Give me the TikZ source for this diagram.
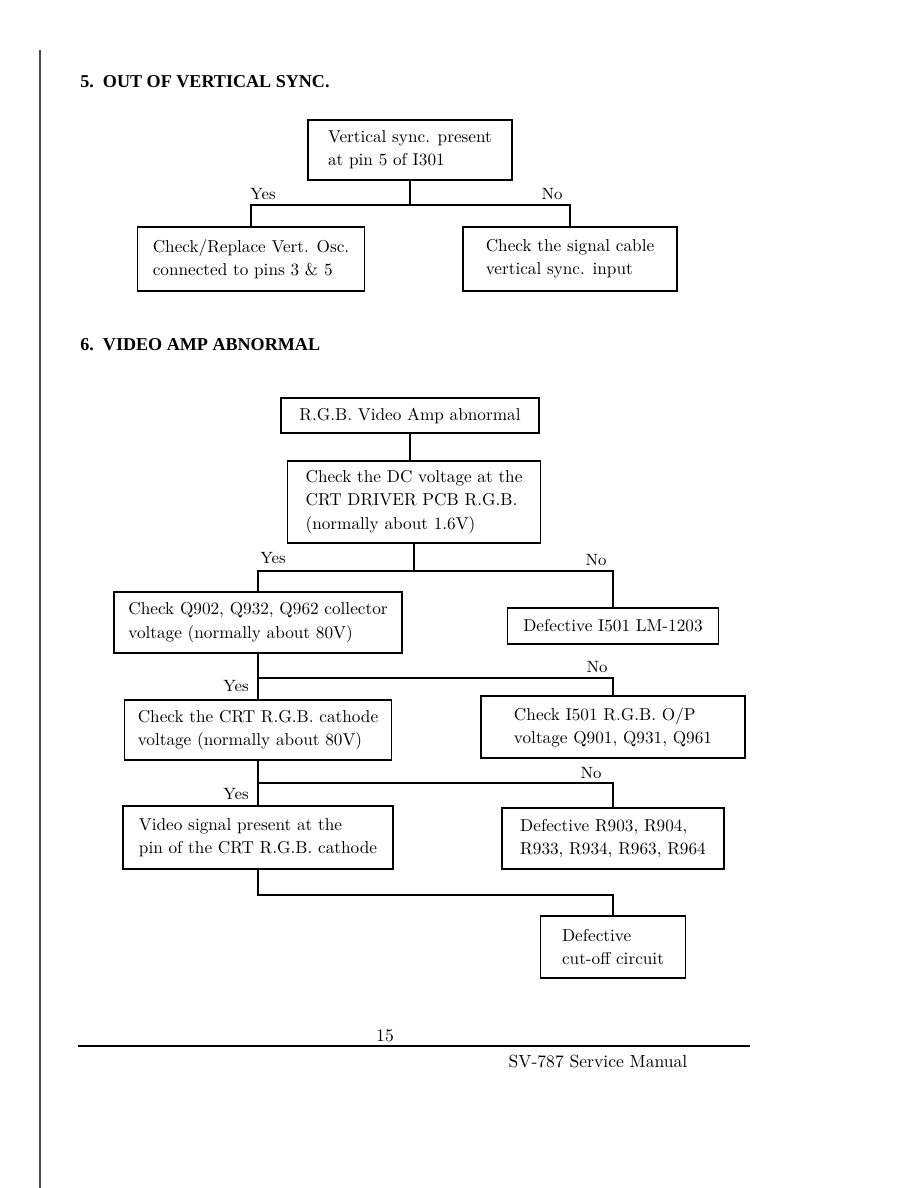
\documentclass[tikz,border=0pt]{standalone}
\usepackage{fontspec}
\usepackage{tikz}
\usetikzlibrary{positioning}
\newfontfamily\headfont{Liberation Serif}
\tikzset{
  box/.style={draw, line width=0.9pt, align=left, inner sep=0pt, font=\fontsize{9.8}{13.3}\selectfont},
  conn/.style={line width=0.9pt},
  lbl/.style={font=\fontsize{9.3}{11}\selectfont},
  heading/.style={anchor=west, inner sep=0pt, font=\headfont\bfseries\fontsize{10.3}{12}\selectfont},
}
\begin{document}
\begin{tikzpicture}[x=0.02cm, y=-0.02cm]
  \useasboundingbox (0,0) rectangle (918,1188);
  \draw[line width=1pt, gray!60!black] (40,50) -- (40,1188);
  % 5. vertical sync
  \node[heading] (h5) at (80,82) {5.\ \ OUT OF VERTICAL SYNC.};
  \node[box, minimum width=4.08cm, minimum height=1.2cm] (sync) at (410,150) {Vertical sync. present\\at pin 5 of I301};
  \node[box, minimum width=4.54cm, minimum height=1.28cm] (osc) at (251,259) {Check/Replace Vert. Osc.\\connected to pins 3 \& 5};
  \node[box, minimum width=4.28cm, minimum height=1.28cm] (cable) at (570,259) {Check the signal cable\\vertical sync. input};
  \draw[conn] (sync.south) -- ++(0,24) coordinate (s1);
  \draw[conn] (osc.north) |- (s1) -| (cable.north);
  \node[lbl] (yes1) at (263,194) {Yes};
  \node[lbl] (no1) at (552,194) {No};
  % 6. video amp
  \node[heading] (h6) at (80,345) {6.\ \ VIDEO AMP ABNORMAL};
  \node[box, minimum width=5.16cm, minimum height=0.7cm] (rgb) at (410,415.5) {R.G.B. Video Amp abnormal};
  \node[box, minimum width=5.06cm, minimum height=1.64cm] (dc) at (414,502) {Check the DC voltage at the\\CRT DRIVER PCB R.G.B.\\(normally about 1.6V)};
  \node[box, minimum width=5.76cm, minimum height=1.22cm] (coll) at (258,622.5) {Check Q902, Q932, Q962 collector\\voltage (normally about 80V)};
  \node[box, minimum width=4.22cm, minimum height=0.72cm] (lm) at (613,626) {Defective I501 LM-1203};
  \node[box, minimum width=5.34cm, minimum height=1.2cm] (cath) at (258,730) {Check the CRT R.G.B. cathode\\voltage (normally about 80V)};
  \node[box, minimum width=5.28cm, minimum height=1.24cm] (op) at (613,727) {Check I501 R.G.B. O/P\\voltage Q901, Q931, Q961};
  \node[box, minimum width=5.4cm, minimum height=1.26cm] (video) at (258,837.5) {Video signal present at the\\pin of the CRT R.G.B. cathode};
  \node[box, minimum width=4.44cm, minimum height=1.22cm] (res) at (613,838.5) {Defective R903, R904,\\R933, R934, R963, R964};
  \node[box, minimum width=2.9cm, minimum height=1.24cm] (cut) at (613,947) {Defective\\cut-off circuit};
  % connectors
  \draw[conn] (rgb.south) -- (rgb.south |- dc.north);
  \draw[conn] (dc.south) -- ++(0,27) coordinate (s2);
  \draw[conn] (coll.north) |- (s2) -| (lm.north);
  \draw[conn] (coll.south) -- (cath.north);
  \draw[conn] (coll.south) ++(0,24) coordinate (s3) -| (op.north);
  \draw[conn] (cath.south) -- (video.north);
  \draw[conn] (cath.south) ++(0,22) coordinate (s4) -| (res.north);
  \draw[conn] (video.south) -- ++(0,25) coordinate (s5) -| (cut.north);
  \node[lbl] (yes2) at (273,558) {Yes};
  \node[lbl] (no2) at (596,560) {No};
  \node[lbl] (yes3) at (236,686) {Yes};
  \node[lbl] (no3) at (597,667) {No};
  \node[lbl] (yes4) at (236,794) {Yes};
  \node[lbl] (no4) at (591,773) {No};
  % footer
  \node[font=\fontsize{10}{12}\selectfont] (page) at (385,1036) {15};
  \draw[line width=1pt] (78,1046) -- (750,1046);
  \node[font=\fontsize{10}{12}\selectfont] (manual) at (598,1061) {SV-787 Service Manual};
\end{tikzpicture}
\end{document}
